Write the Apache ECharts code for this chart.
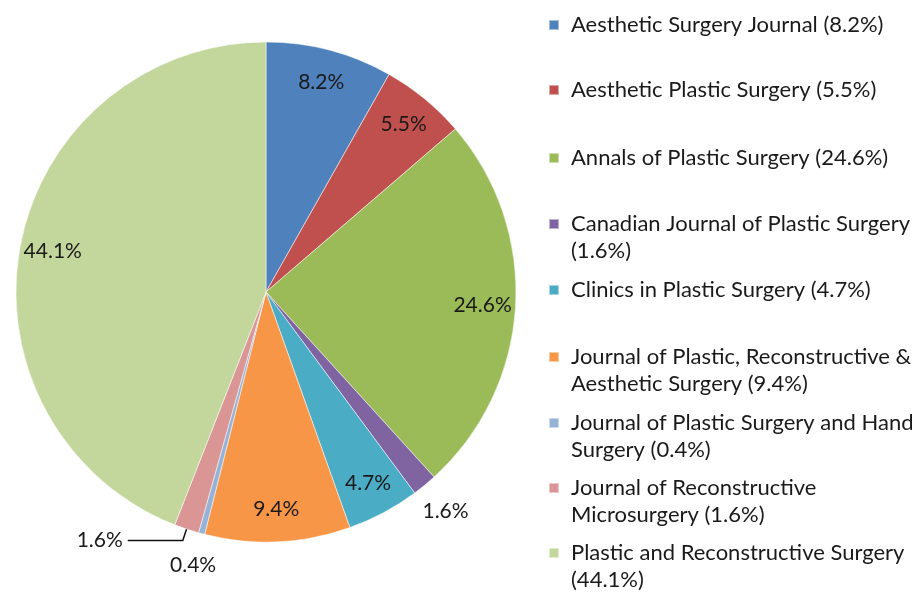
<!DOCTYPE html>
<html>
<head>
<meta charset="utf-8">
<title>Journals</title>
<script src="https://cdn.jsdelivr.net/npm/echarts@6/dist/echarts.min.js"></script>
<style>
  html, body { margin: 0; background: #fff; }
  #chart { width: 912px; height: 593px; }
</style>
</head>
<body>
<div id="chart"></div>
<script>
const journals = [
  'Aesthetic Surgery Journal',
  'Aesthetic Plastic Surgery',
  'Annals of Plastic Surgery',
  'Canadian Journal of Plastic Surgery',
  'Clinics in Plastic Surgery',
  'Journal of Plastic, Reconstructive & Aesthetic Surgery',
  'Journal of Plastic Surgery and Hand Surgery',
  'Journal of Reconstructive Microsurgery',
  'Plastic and Reconstructive Surgery'
];
const shares = [8.2, 5.5, 24.6, 1.6, 4.7, 9.4, 0.4, 1.6, 44.1];

const colors = ['#4F81BD', '#C0504D', '#9BBB59', '#8064A2', '#4BACC6',
  '#F79646', '#95B3D7', '#D99694', '#C3D69B'];

// word after which a legend label wraps to a second line
const legendBreak = [null, null, null, 'Surgery', null, '&', 'Hand', 'Reconstructive', 'Surgery'];
// y of the first line of each legend entry
const legendRows = [25, 90, 158, 224, 290, 357, 423, 488, 553];

// small slices: label sits outside the pie
const outerLabels = [journals[3], journals[6]];
const leaderLabel = journals[7];

const FONT = 'Lato';
const TEXT = '#1a1a1a';
const CX = 266, CY = 292, R = 250;
const LH = 27;

const chart = echarts.init(document.getElementById('chart'));

const pct = p => p.value + '%';
const labelText = { fontFamily: FONT, fontSize: 21, color: TEXT };

// legend text: wrapped entries get an empty first line so that the
// icon (centred on the block) lines up with the first real line
function legendLabel(n) {
  const k = journals.indexOf(n);
  let s = n + ' (' + shares[k] + '%)';
  if (legendBreak[k]) {
    s = '\u00a0\n' + s.replace(legendBreak[k] + ' ', legendBreak[k] + '\n');
  }
  return s;
}

chart.setOption({
  animation: false,
  legend: journals.map((name, i) => ({
    data: [name],
    orient: 'vertical',
    left: 548,
    top: legendRows[i] - (legendBreak[i] ? LH * 1.5 : LH / 2) + 5 - 5,
    padding: 0,
    icon: 'rect',
    itemWidth: 10,
    itemHeight: 10,
    selectedMode: false,
    formatter: legendLabel,
    textStyle: { fontFamily: FONT, fontSize: 22, color: TEXT, lineHeight: LH, padding: [0, 0, 0, 7] }
  })),
  series: [
    {
      type: 'pie',
      center: [CX, CY],
      radius: R,
      startAngle: 90,
      clockwise: true,
      avoidLabelOverlap: false,
      emphasis: { disabled: true },
      itemStyle: { borderColor: 'rgba(255,255,255,0.5)', borderWidth: 1 },
      label: { show: false },
      labelLine: { show: false },
      data: journals.map((name, i) => ({
        name,
        value: shares[i],
        itemStyle: { color: colors[i] },
        label: name === leaderLabel
          ? Object.assign({ show: true, position: 'outside', formatter: pct }, labelText)
          : { show: false },
        labelLine: name === leaderLabel
          ? { show: true, length: 12, length2: 55, smooth: false,
              lineStyle: { color: '#111', width: 1.5 } }
          : { show: false }
      }))
    },
    {
      // inner label ring
      type: 'pie',
      center: [CX, CY],
      radius: [194, 234],
      startAngle: 90,
      silent: true,
      legendHoverLink: false,
      itemStyle: { color: 'rgba(0,0,0,0)' },
      labelLine: { show: false },
      data: journals.map((name, i) => ({
        name,
        value: shares[i],
        label: Object.assign({
          show: !outerLabels.includes(name) && name !== leaderLabel,
          position: 'inside',
          formatter: pct
        }, labelText)
      }))
    },
    {
      // outer label ring
      type: 'pie',
      center: [CX, CY],
      radius: [262, 298],
      startAngle: 90,
      silent: true,
      legendHoverLink: false,
      itemStyle: { color: 'rgba(0,0,0,0)' },
      labelLine: { show: false },
      data: journals.map((name, i) => ({
        name,
        value: shares[i],
        label: Object.assign({
          show: outerLabels.includes(name),
          position: 'inside',
          formatter: pct
        }, labelText)
      }))
    }
  ]
});
</script>
</body>
</html>
